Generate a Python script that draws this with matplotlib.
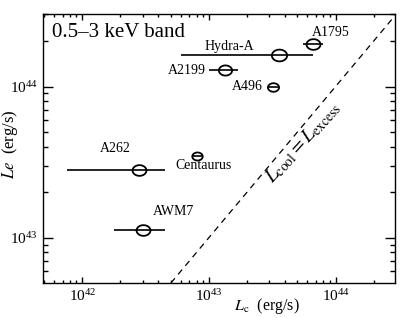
import numpy as np
import matplotlib
matplotlib.use("Agg")
from matplotlib import pyplot as plt
from matplotlib.path import Path

plt.rcParams["font.family"] = "Liberation Serif"
plt.rcParams["mathtext.fontset"] = "stix"

# cluster data (log10 erg/s)
names = ["A1795", "Hydra-A", "A2199", "A496", "A262", "Centaurus", "AWM7"]
log_lc = [43.82, 43.55, 43.13, 43.51, 42.45, 42.91, 42.48]
log_le = [44.28, 44.21, 44.11, 44.00, 43.45, 43.54, 43.05]
log_lc_lo = [43.74, 42.78, 43.00, 43.47, 41.88, 42.87, 42.25]
log_lc_hi = [43.90, 43.82, 43.23, 43.55, 42.65, 42.95, 42.65]
msize = [10, 11, 9.5, 8, 10, 7.5, 10]

# label positions (log10 coords)
lab_x = [43.96, 43.16, 42.83, 43.30, 42.26, 42.96, 42.72]
lab_y = [44.36, 44.265, 44.106, 44.00, 43.59, 43.48, 43.17]

lc = 10 ** np.array(log_lc)
le = 10 ** np.array(log_le)
xerr = [lc - 10 ** np.array(log_lc_lo), 10 ** np.array(log_lc_hi) - lc]

# slightly wide ellipse marker
t = np.linspace(0, 2 * np.pi, 60)
ell = Path(np.column_stack([1.3 * np.cos(t), np.sin(t)]), closed=True)

fig = plt.figure(figsize=(4.09, 3.18), dpi=100)
ax = fig.add_axes([0.105, 0.110, 0.861, 0.846])

for i in range(len(names)):
    ax.errorbar(lc[i], le[i], xerr=[[xerr[0][i]], [xerr[1][i]]], fmt="none",
                ecolor="black", elinewidth=1.2, capsize=0)
    ax.plot(lc[i], le[i], marker=ell, ms=msize[i], mfc="none", mec="black",
            mew=1.3, ls="none")
    ax.text(10 ** lab_x[i], 10 ** lab_y[i], names[i], fontsize=10,
            ha="center", va="center")

xmin, xmax = 10 ** 41.69, 10 ** 44.47
ymin, ymax = 10 ** 42.70, 10 ** 44.48
line = np.array([ymin, xmax])
ax.plot(line, line, ls=(0, (5, 4)), color="black", lw=0.9)

ax.text(10 ** 43.74, 10 ** 43.63, r"$L_{\rm cool}$$=$$L_{\rm excess}$",
        fontsize=14, rotation=48, ha="center", va="center")
ax.text(10 ** 41.76, 10 ** 44.36, "0.5\u20133 keV band", fontsize=15,
        ha="left", va="center")

ax.set_xscale("log")
ax.set_yscale("log")
ax.set_xlim(xmin, xmax)
ax.set_ylim(ymin, ymax)
ax.tick_params(which="both", direction="in", top=True, right=True,
               labelsize=11, width=1)
ax.tick_params(axis="x", which="major", length=4.5)
ax.tick_params(axis="x", which="minor", length=2.2)
ax.tick_params(axis="y", which="major", length=7)
ax.tick_params(axis="y", which="minor", length=3.5)
ax.set_xlabel(r"$L_{\rm c}$  (erg/s)", fontsize=11.5)
ax.set_ylabel(r"$Le$  (erg/s)", fontsize=12)
ax.xaxis.set_label_coords(0.636, -0.048)
ax.yaxis.set_label_coords(-0.066, 0.517)
for s in ax.spines.values():
    s.set_linewidth(1.0)

fig.savefig("out.png", dpi=100)
